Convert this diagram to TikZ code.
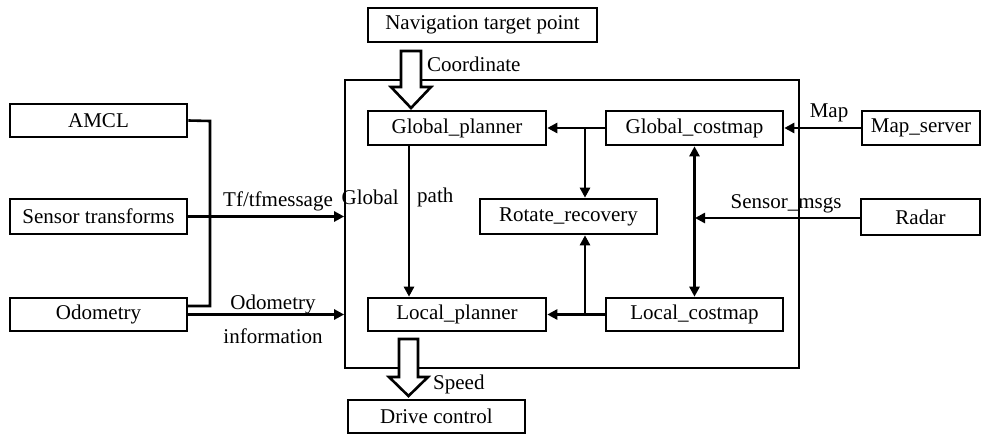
\documentclass[tikz,border=0pt]{standalone}
\usepackage{fontspec}
\setmainfont{Liberation Serif}
\usetikzlibrary{arrows.meta}
\begin{document}
\begin{tikzpicture}[x=1pt,y=-1pt,
  txt/.style={font=\fontsize{21}{24}\selectfont},
  box/.style={draw,line width=2.6pt,inner sep=0pt,txt},
  lbl/.style={inner sep=0pt,txt},
  conn/.style={line width=2.6pt,-{Triangle[length=10pt,width=10pt]}},
  dconn/.style={line width=2.6pt,{Triangle[length=10pt,width=10pt]}-{Triangle[length=10pt,width=10pt]}},
  plain/.style={line width=2.6pt},
  frame/.style={draw,line width=1.7pt},
  hollow/.style={draw,line width=2.6pt,fill=white,line join=miter}]
\useasboundingbox (0,0) rectangle (982,434);
% container
\node[frame,minimum width=454pt,minimum height=288pt,inner sep=0pt] (ctr) at (572,224) {};
% boxes
\node[box,minimum width=229pt,minimum height=34pt] (nav) at (482.5,25) {Navigation target point};
\node[box,minimum width=177pt,minimum height=33pt] (amcl) at (98.5,120.5) {AMCL};
\node[box,minimum width=177pt,minimum height=35pt] (sens) at (98.5,216.5) {Sensor transforms};
\node[box,minimum width=177pt,minimum height=33pt] (odom) at (98.5,314.5) {Odometry};
\node[box,minimum width=178pt,minimum height=34pt] (gp) at (457,128) {Global\_planner};
\node[box,minimum width=177pt,minimum height=34pt] (gc) at (694.5,128) {Global\_costmap};
\node[box,minimum width=118pt,minimum height=34pt] (ms) at (921,128) {Map\_server};
\node[box,minimum width=177pt,minimum height=35pt] (rr) at (568.5,216.5) {Rotate\_recovery};
\node[box,minimum width=119pt,minimum height=36pt] (radar) at (920.5,217) {Radar};
\node[box,minimum width=178pt,minimum height=33pt] (lp) at (457,314.5) {Local\_planner};
\node[box,minimum width=177pt,minimum height=33pt] (lc) at (694.5,314.5) {Local\_costmap};
\node[box,minimum width=177pt,minimum height=33pt] (dc) at (436.5,416.5) {Drive control};
% coordinates
\coordinate (amclJ) at (210,121);
\coordinate (odJ) at (187,306);
\coordinate (gcB) at (585,128);
\coordinate (lcB) at (585,314);
% left connectors
\draw[plain] (amcl.east) -- (amclJ) |- (odJ);
\draw[conn] (sens.east) -- (sens.east -| ctr.west);
\draw[conn] (odom.east) -- (odom.east -| ctr.west);
% internal
\draw[conn] (gc.west) -- (gp.east);
\draw[conn] (gcB) -- (gcB |- rr.north);
\draw[conn] (lc.west) -- (lp.east);
\draw[conn] (lcB) -- (lcB |- rr.south);
\draw[conn] (ms.west) -- (gc.east);
\draw[conn] (radar.west |- 0,218) -- (695,218);
\draw[dconn] (gc.south) -- (lc.north);
\draw[conn] ([xshift=-48pt]gp.south) -- ([xshift=-48pt]lp.north);
% hollow arrows
\draw[hollow] (401,51) -- (421,51) -- (421,87) -- (431,87) -- (411,108) -- (391,87) -- (401,87) -- cycle;
\draw[hollow] (399,339) -- (418,339) -- (418,377) -- (428,377) -- (408.5,396) -- (389,377) -- (399,377) -- cycle;
% labels
\node[lbl,anchor=west] (lcoord) at (427,64) {Coordinate};
\node[lbl] (ltf) at (278,201) {Tf/tfmessage};
\node[lbl,anchor=east] (lglob) at (399,197) {Global};
\node[lbl,anchor=west] (lpath) at (417,197) {path};
\node[lbl] (lodo1) at (273,304) {Odometry};
\node[lbl] (lodo2) at (273,336) {information};
\node[lbl] (lmap) at (829,113) {Map};
\node[lbl] (lsens) at (786,204) {Sensor\_msgs};
\node[lbl,anchor=west] (lspeed) at (433,384) {Speed};
\end{tikzpicture}
\end{document}
